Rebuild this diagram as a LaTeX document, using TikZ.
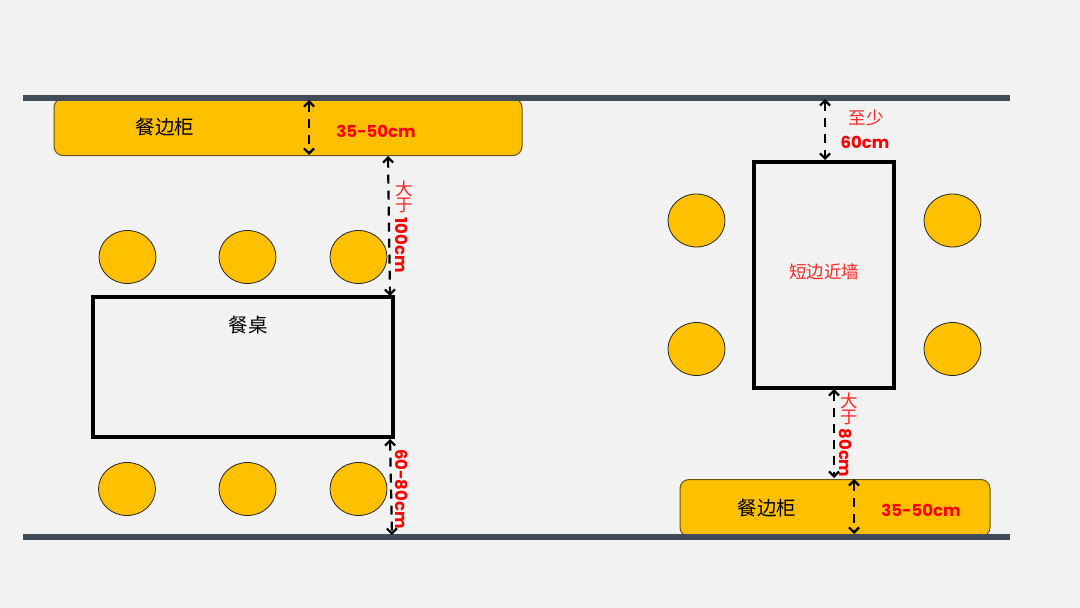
\documentclass[tikz,border=0pt]{standalone}
\usepackage{fontspec}
\setmainfont{Noto Sans CJK SC}
\newfontfamily\latinbold{Poppins}
\usetikzlibrary{arrows.meta,shapes.geometric}
\definecolor{backcol}{HTML}{F2F2F2}
\definecolor{wallcol}{HTML}{404C58}
\definecolor{woodcol}{HTML}{FFC000}
\definecolor{edgecol}{HTML}{6B5310}
\tikzstyle{wall}=[rectangle, fill=wallcol, inner sep=0pt, minimum height=5.5pt, minimum width=987pt]
\tikzstyle{cabinet}=[rectangle, rounded corners=9pt, draw=edgecol, line width=1pt, fill=woodcol, inner sep=0pt]
\tikzstyle{desk}=[rectangle, draw=black, line width=3.2pt, inner sep=0pt]
\tikzstyle{chair}=[ellipse, draw=black!85, line width=.8pt, fill=woodcol, inner sep=0pt, minimum width=57pt, minimum height=53pt]
\tikzstyle{cntext}=[inner sep=0pt, font=\fontsize{19.5}{20}\selectfont]
\tikzstyle{redcn}=[inner sep=0pt, text=red!85!white, font=\fontsize{17.5}{18}\selectfont]
\tikzstyle{size}=[inner sep=0pt, text=red, font=\latinbold\fontsize{16.5}{17}\selectfont\bfseries]
\newcommand{\chair}{\node[chair]}
\begin{document}
\begin{tikzpicture}[x=1pt, y=-1pt
    ,every edge/.style={draw, dash pattern=on 9pt off 7pt, line width=2.2pt, black,
        {Straight Barb[length=5pt,width=10pt,line width=2.2pt]}-{Straight Barb[length=5pt,width=10pt,line width=2.2pt]}}
]
\useasboundingbox (0,0) rectangle (1080,608);
\fill[backcol] (0,0) rectangle (1080,608);
\node[cabinet, minimum width=468pt, minimum height=57pt] (cabl) at (288,127) {};
\node[cabinet, minimum width=310pt, minimum height=57pt] (cabr) at (835,508) {};
\node[wall] (walltop) at (516.5,98) {};
\node[wall] (wallbot) at (516.5,537) {};
\node[desk, minimum width=300pt, minimum height=140pt] (deskl) at (243,367) {};
\node[desk, minimum width=140pt, minimum height=226pt] (deskr) at (824,275) {};
\chair (a) at (127.5,257) {};
\chair (b) at (247.5,257) {};
\chair (c) at (358.5,257) {};
\chair (d) at (127,489) {};
\chair (e) at (247.5,489) {};
\chair (f) at (358.5,489) {};
\chair (g) at (696.5,220.5) {};
\chair (h) at (952.5,220.5) {};
\chair (i) at (696.5,349) {};
\chair (j) at (952.5,349) {};
\node[cntext] (tcabl) at (165,127) {餐边柜};
\node[cntext] (tcabr) at (767,508) {餐边柜};
\node[cntext] (tdesk) at (248,325) {餐桌};
\node[redcn] (tnear) at (824,272) {短边近墙};
\node[size] (sizea) at (376,131) {35-50cm};
\node[size] (sizeb) at (921,510) {35-50cm};
\node[redcn] (big1) at (404,189) {大};
\node[redcn] (yu1) at (404,205) {于};
\node[size, rotate=-90] (size100) at (402,245) {100cm};
\node[size, rotate=-90] (size60) at (402,489) {60-80cm};
\node[redcn] (big2) at (849,401) {大};
\node[redcn] (yu2) at (849,417) {于};
\node[size, rotate=-90] (size80) at (846,453) {80cm};
\node[redcn] (least) at (866,118) {至少};
\node[size] (sizec) at (865,142) {60cm};
\coordinate (p1) at (309,100);
\coordinate (p2) at (309,155);
\coordinate (p3) at (388,156);
\coordinate (p4) at (390,296);
\coordinate (p5) at (390,439);
\coordinate (p6) at (392,535);
\coordinate (p7) at (825,99);
\coordinate (p8) at (825,160);
\coordinate (p9) at (834,389);
\coordinate (p10) at (834,478);
\coordinate (p11) at (854,479);
\coordinate (p12) at (854,534);
\path
(p1) edge (p2)
(p3) edge (p4)
(p5) edge (p6)
(p7) edge (p8)
(p9) edge (p10)
(p11) edge (p12)
;
\end{tikzpicture}
\end{document}
